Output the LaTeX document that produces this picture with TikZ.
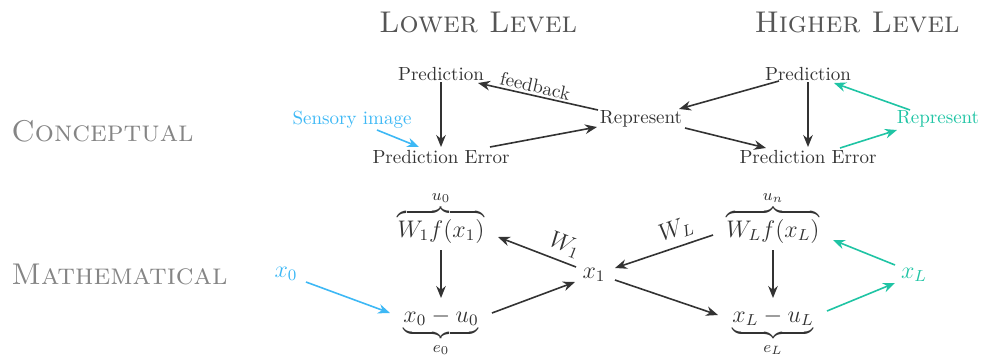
\documentclass[tikz,border=0pt]{standalone}
\usetikzlibrary{arrows.meta,calc}

\definecolor{ink}{HTML}{333333}
\definecolor{headgray}{HTML}{555555}
\definecolor{sidegray}{HTML}{858585}
\definecolor{sensecol}{HTML}{3DB8F5}
\definecolor{topcol}{HTML}{1FC4A4}

\begin{document}
\begin{tikzpicture}[x=0.5pt,y=-0.5pt,
  arr/.style={draw=ink, line width=0.8pt, -{Stealth[length=6pt,width=4.8pt]}},
  concept/.style={text=ink, font=\fontsize{9.5}{11}\selectfont, inner sep=0pt},
  mathnode/.style={text=ink, font=\fontsize{12}{14}\selectfont, inner sep=0pt},
  head/.style={text=headgray, font=\fontsize{15}{18}\selectfont\scshape, inner sep=0pt},
  side/.style={text=sidegray, font=\fontsize{15}{18}\selectfont\scshape, inner sep=0pt, anchor=west},
]
\useasboundingbox (0,0) rectangle (982,360);

% column and row headings
\node[head] (lowhead) at (478,22) {Lower Level};
\node[head] (highhead) at (857,22) {Higher Level};
\node[side] (conc) at (11,131) {Conceptual};
\node[side] (math) at (11,274) {Mathematical};

% conceptual row
\node[concept] (pl)   at (441,74)  {Prediction};
\node[concept] (pel)  at (441,157) {Prediction Error};
\node[concept, text=sensecol] (si) at (352,120) {Sensory image};
\node[concept] (rep)  at (641,119) {Represent};
\node[concept] (ph)   at (808,74)  {Prediction};
\node[concept] (peh)  at (808,157) {Prediction Error};
\node[concept, text=topcol] (reph) at (938,119) {Represent};

\draw[arr] ($(pl)+(0,8)$) -- ($(pel)+(0,-10)$);
\draw[arr, draw=sensecol] ($(si)+(25,10)$) -- ($(pel)+(-22,-10)$);
\draw[arr] ($(pel)+(49,-10)$) -- ($(rep)+(-44,8)$);
\draw[arr] ($(rep)+(-43,-9)$) -- node[concept, pos=0.54, sloped, above=1pt] {feedback} ($(pl)+(37,9)$);
\draw[arr] ($(ph)+(-29,7)$) -- ($(rep)+(38,-10)$);
\draw[arr] ($(rep)+(44,9)$) -- ($(peh)+(-42,-9)$);
\draw[arr] ($(ph)+(0,8)$) -- ($(peh)+(0,-10)$);
\draw[arr, draw=topcol] ($(peh)+(32,-9)$) -- ($(reph)+(-41,11)$);
\draw[arr, draw=topcol] ($(reph)+(-28,-9)$) -- ($(ph)+(26,9)$);

% mathematical row
\node[mathnode, anchor=base] (wf1) at (441,237) {$\overbrace{W_1f(x_1)}^{u_0}$};
\node[mathnode, anchor=base] (xu0) at (441,322) {$\underbrace{x_0-u_0}_{e_0}$};
\node[mathnode, text=sensecol] (x0) at (286,274) {$x_0$};
\node[mathnode] (x1) at (594,275) {$x_1$};
\node[mathnode, anchor=base] (wfL) at (773,237) {$\overbrace{W_Lf(x_L)}^{u_n}$};
\node[mathnode, anchor=base] (xuL) at (773,322) {$\underbrace{x_L-u_L}_{e_L}$};
\node[mathnode, text=topcol] (xL) at (914,275) {$x_L$};

\draw[arr] ($(wf1.base)+(0,13)$) -- ($(xu0.base)+(0,-24)$);
\draw[arr, draw=sensecol] ($(x0)+(20,8)$) -- ($(xu0.base)+(-51,-9)$);
\draw[arr] ($(xu0.base)+(51,-9)$) -- ($(x1)+(-19,7)$);
\draw[arr] ($(x1)+(-18,-8)$) -- node[mathnode, pos=0.22, sloped, above=3pt] {$W_1$} ($(wf1.base)+(57,0)$);
\draw[arr] ($(wfL.base)+(-60,-2)$) -- node[mathnode, pos=0.32, sloped, above=3pt] {$W_L$} ($(x1)+(21,-7)$);
\draw[arr] ($(x1)+(21,5)$) -- ($(xuL.base)+(-55,-7)$);
\draw[arr] ($(wfL.base)+(0,13)$) -- ($(xuL.base)+(0,-24)$);
\draw[arr, draw=topcol] ($(xuL.base)+(54,-11)$) -- ($(xL)+(-19,8)$);
\draw[arr, draw=topcol] ($(xL)+(-19,-10)$) -- ($(wfL.base)+(60,3)$);
\end{tikzpicture}
\end{document}
